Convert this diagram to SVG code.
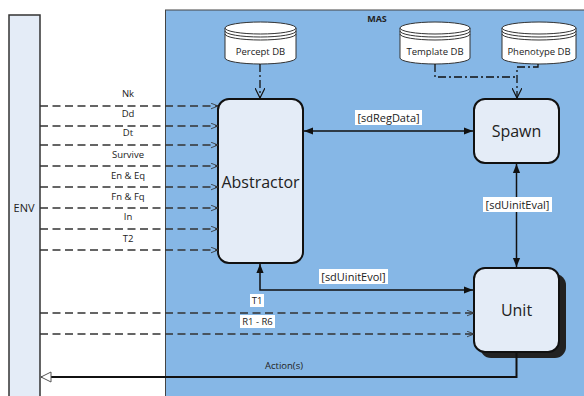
<svg xmlns="http://www.w3.org/2000/svg" width="584" height="396" viewBox="0 0 584 396">
<defs>
<style>
text{font-family:"Open Sans","Liberation Sans",Arial,sans-serif;fill:#222}
.lbl{font-size:9.5px;text-anchor:middle}
.big{font-size:16px;text-anchor:middle}
.msg{fill:none;stroke:#333;stroke-width:1.5;stroke-dasharray:8,4.5}
.solid{fill:none;stroke:#111;stroke-width:1.5}
.dd{fill:none;stroke:#111;stroke-width:1.3;stroke-dasharray:8,3,2,3}
.box{fill:#e4ecf7;stroke:#111;stroke-width:2}
.cyl{fill:#fff;stroke:#333;stroke-width:1}
.bg{fill:#fff}
</style>
<marker id="open" viewBox="0 0 10 10" refX="10" refY="5" markerWidth="7" markerHeight="7" markerUnits="userSpaceOnUse" orient="auto">
<path d="M0,1 L10,5 L0,9" fill="none" stroke="#333" stroke-width="1.2"/>
</marker>
<marker id="vee" viewBox="0 0 10 10" refX="10" refY="5" markerWidth="10" markerHeight="10" markerUnits="userSpaceOnUse" orient="auto">
<path d="M0,0 L10,5 L0,10" fill="none" stroke="#111" stroke-width="1.2"/>
</marker>
<marker id="fill" viewBox="0 0 10 10" refX="10" refY="5" markerWidth="9" markerHeight="9" markerUnits="userSpaceOnUse" orient="auto-start-reverse">
<path d="M0,1 L10,5 L0,9 Z" fill="#111"/>
</marker>
<marker id="hollow" viewBox="0 0 12 12" refX="11" refY="6" markerWidth="12" markerHeight="12" markerUnits="userSpaceOnUse" orient="auto">
<path d="M1,1 L11,6 L1,11 Z" fill="#fff" stroke="#555" stroke-width="1"/>
</marker>
</defs>
<rect width="584" height="396" fill="#fff"/>
<g id="mas">
<rect x="165.5" y="10" width="430" height="400" fill="#86b7e6" stroke="#444" stroke-width="1"/>
<text x="377" y="22" style="font-size:9px;font-weight:bold;text-anchor:middle">MAS</text>
</g>
<g id="env">
<rect x="9" y="15" width="31" height="390" fill="#e4ecf7" stroke="#333" stroke-width="1.5"/>
<text x="24" y="212" style="font-size:11px;text-anchor:middle">ENV</text>
</g>
<g id="percept-db">
<path class="cyl" d="M225,28 V58 A35.5,6 0 0 0 296,58 V28"/>
<ellipse class="cyl" cx="260.5" cy="28" rx="35.5" ry="6"/>
<path d="M225,31 A35.5,6 0 0 0 296,31 M225,34 A35.5,6 0 0 0 296,34" fill="none" stroke="#333" stroke-width="1"/>
<text x="260.5" y="55" class="lbl">Percept DB</text>
</g>
<g id="template-db">
<path class="cyl" d="M400,28 V58 A35,6 0 0 0 470,58 V28"/>
<ellipse class="cyl" cx="435" cy="28" rx="35" ry="6"/>
<path d="M400,31 A35,6 0 0 0 470,31 M400,34 A35,6 0 0 0 470,34" fill="none" stroke="#333" stroke-width="1"/>
<text x="435" y="55" class="lbl">Template DB</text>
</g>
<g id="phenotype-db">
<path class="cyl" d="M502,28 V58 A37,6 0 0 0 576,58 V28"/>
<ellipse class="cyl" cx="539" cy="28" rx="37" ry="6"/>
<path d="M502,31 A37,6 0 0 0 576,31 M502,34 A37,6 0 0 0 576,34" fill="none" stroke="#333" stroke-width="1"/>
<text x="539" y="55" class="lbl">Phenotype DB</text>
</g>
<g id="abstractor">
<rect class="box" x="218" y="99" width="85" height="164" rx="11"/>
<text x="260.5" y="188" class="big">Abstractor</text>
</g>
<g id="spawn">
<rect class="box" x="474" y="99" width="85" height="64" rx="11"/>
<text x="516.5" y="137" class="big">Spawn</text>
</g>
<g id="unit">
<rect x="480" y="274" width="86" height="84" rx="11" fill="#222"/>
<rect class="box" x="474" y="268" width="85" height="84" rx="11"/>
<text x="516.5" y="316" class="big">Unit</text>
</g>
<g id="connectors">
<path class="dd" d="M260,64 V98" marker-end="url(#vee)"/>
<path class="dd" d="M435,64 V77 H517"/>
<path class="dd" d="M538,64 V67 H517 V98" marker-end="url(#vee)"/>
<g class="msg">
<path d="M40,106 H218" marker-end="url(#open)"/>
<path d="M40,126 H218" marker-end="url(#open)"/>
<path d="M40,145 H218" marker-end="url(#open)"/>
<path d="M40,166 H218" marker-end="url(#open)"/>
<path d="M40,187 H218" marker-end="url(#open)"/>
<path d="M40,208 H218" marker-end="url(#open)"/>
<path d="M40,229 H218" marker-end="url(#open)"/>
<path d="M40,250 H218" marker-end="url(#open)"/>
<path d="M40,313 H474" marker-end="url(#open)"/>
<path d="M40,334 H474" marker-end="url(#open)"/>
</g>
<path class="solid" d="M304,131 H473" marker-start="url(#fill)" marker-end="url(#fill)"/>
<path class="solid" d="M516.5,164 V267" marker-start="url(#fill)" marker-end="url(#fill)"/>
<path class="solid" d="M260,264 V290 H473" marker-start="url(#fill)" marker-end="url(#fill)"/>
<path d="M516.5,352 V377 H41" fill="none" stroke="#111" stroke-width="2" marker-end="url(#hollow)"/>
<text x="128" y="97" class="lbl">Nk</text>
<text x="128" y="117" class="lbl">Dd</text>
<text x="128" y="136" class="lbl">Dt</text>
<text x="128" y="158" class="lbl">Survive</text>
<text x="128" y="179" class="lbl">En &amp; Eq</text>
<text x="128" y="200" class="lbl">Fn &amp; Fq</text>
<text x="128" y="220" class="lbl">In</text>
<text x="128" y="242" class="lbl">T2</text>
<rect class="bg" x="250" y="294" width="14" height="13"/>
<text x="257" y="304" class="lbl">T1</text>
<rect class="bg" x="240" y="315" width="35" height="13"/>
<text x="257.5" y="325" class="lbl">R1 - R6</text>
<rect class="bg" x="355" y="110" width="67" height="15"/>
<text x="388.5" y="122" style="font-size:11px;text-anchor:middle">[sdRegData]</text>
<rect class="bg" x="483" y="197" width="69" height="15"/>
<text x="517.5" y="209" style="font-size:11px;text-anchor:middle">[sdUinitEval]</text>
<rect class="bg" x="319" y="269" width="69" height="15"/>
<text x="353.5" y="281" style="font-size:11px;text-anchor:middle">[sdUinitEvol]</text>
<text x="284" y="369" class="lbl">Action(s)</text>
</g>
</svg>
